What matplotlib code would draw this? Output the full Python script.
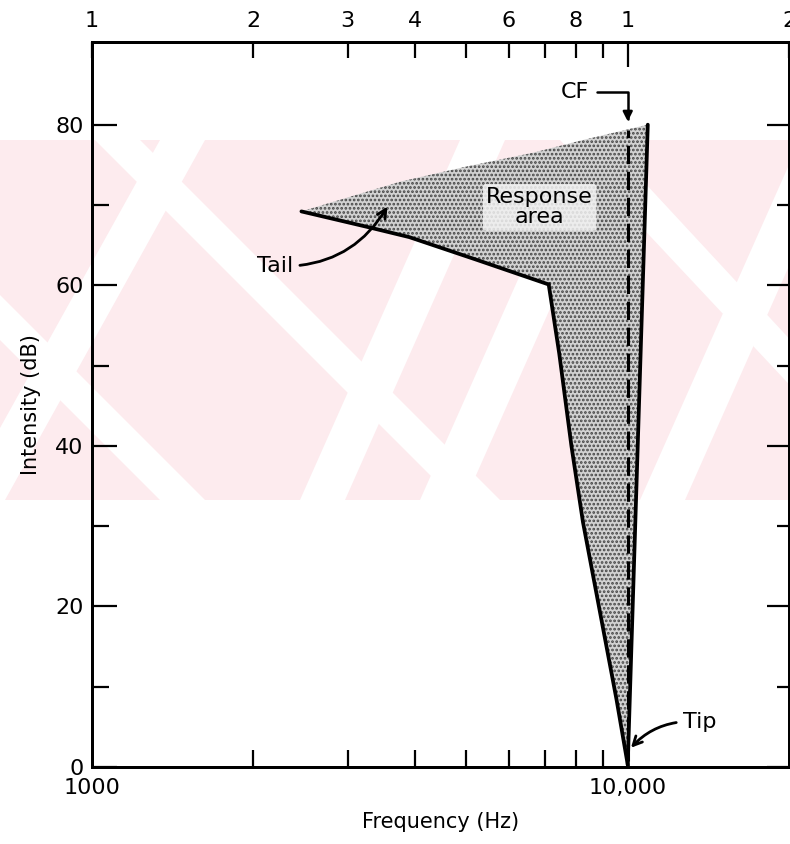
import matplotlib
matplotlib.use('Agg')
import matplotlib.pyplot as plt
from matplotlib.patches import Polygon, Rectangle
from matplotlib.ticker import FixedLocator, FixedFormatter, NullFormatter

# tuning curve (frequency in Hz, intensity in dB)
tail_freq = [2460, 3250, 3910, 5210, 7120]
tail_db = [69.2, 67.3, 66.0, 63.2, 60.1]
low_freq = [7120, 7450, 7850, 8250, 9530, 10000]
low_db = [60.1, 51.5, 40.0, 30.5, 8.4, 0.3]
high_freq = [10000, 10900]
high_db = [0.3, 80.0]

# upper edge of the stippled response area
area_freq = [2460, 3760, 5010, 6650, 8260, 9980, 10900]
area_db = [69.2, 72.9, 74.8, 76.5, 78.1, 79.4, 80.0]

# characteristic frequency
cf_freq = 10000
cf_db = [0.8, 79.3]

bottom_ticks = [1000, 10000]
bottom_labels = ['1000', '10,000']
bottom_minor = [2000, 3000, 4000, 5000, 6000, 7000, 8000, 9000]
top_ticks = [1000, 2000, 3000, 4000, 6000, 8000, 10000, 20000]
top_labels = ['1', '2', '3', '4', '6', '8', '1', '2']
top_minor = [5000, 7000, 9000]

plt.rcParams['font.family'] = ['DejaVu Sans']
plt.rcParams['hatch.linewidth'] = 1.3

W, H = 790, 844
fig = plt.figure(figsize=(W / 100, H / 100), dpi=100)


def px(x, y):
    # pixel position (from top-left) -> figure fraction
    return (x / W, 1 - y / H)


# pale watermark band behind the chart
fig.patches.append(Rectangle(px(0, 500), 1, 360 / H, transform=fig.transFigure,
                             facecolor='#fdebee', edgecolor='none', zorder=-3))
stripes = [
    [(95, 140), (140, 140), (500, 500), (455, 500)],
    [(-60, 280), (-60, 235), (205, 500), (160, 500)],
    [(300, 500), (345, 500), (505, 140), (460, 140)],
    [(420, 500), (465, 500), (625, 140), (580, 140)],
    [(640, 500), (685, 500), (845, 140), (800, 140)],
    [(560, 140), (605, 140), (860, 415), (860, 460)],
    [(-40, 500), (5, 500), (205, 140), (160, 140)],
]
for s in stripes:
    fig.patches.append(Polygon([px(*p) for p in s], closed=True, transform=fig.transFigure,
                               facecolor='white', edgecolor='none', zorder=-2))

ax = fig.add_axes([92 / W, 77 / H, 697 / W, 725 / H])
ax.patch.set_visible(False)
ax.set_xscale('log')
ax.set_xlim(1000, 20000)
ax.set_ylim(0, 90.3)

# stippled response area
poly_x = area_freq + high_freq[::-1] + low_freq[::-1][1:] + tail_freq[::-1][1:]
poly_y = area_db + high_db[::-1] + low_db[::-1][1:] + tail_db[::-1][1:]
ax.fill(poly_x, poly_y, facecolor='#d2d2d2', edgecolor='#454545', hatch='....',
        linewidth=0, zorder=1)

# tuning curve
ax.plot(tail_freq, tail_db, color='black', lw=2.7, solid_joinstyle='round',
        solid_capstyle='round', zorder=3)
ax.plot(low_freq, low_db, color='black', lw=2.7, solid_joinstyle='round', zorder=3)
ax.plot(high_freq, high_db, color='black', lw=2.7, solid_capstyle='round', zorder=3)
ax.plot([cf_freq, cf_freq], cf_db, color='black', lw=2.2,
        linestyle=(0, (6, 2.5)), zorder=3)

# annotations
ax.annotate('CF', xy=(cf_freq, 80.4), xytext=(7500, 84.1), fontsize=16,
            ha='left', va='center',
            arrowprops=dict(arrowstyle='-|>', lw=1.8, color='black', mutation_scale=14,
                            connectionstyle='angle,angleA=0,angleB=90,rad=0',
                            shrinkA=4, shrinkB=0))
ax.text(6850, 69.7, 'Response\narea', fontsize=16, ha='center', va='center',
        linespacing=1.0, zorder=4,
        bbox=dict(boxstyle='round,pad=0.15', facecolor='#f2f2f2', edgecolor='none',
                  alpha=0.85))
ax.annotate('Tail', xy=(3560, 69.8), xytext=(2030, 62.4), fontsize=16,
            ha='left', va='center',
            arrowprops=dict(arrowstyle='->', lw=2, color='black', mutation_scale=16,
                            connectionstyle='arc3,rad=0.3', shrinkA=3, shrinkB=0))
ax.annotate('Tip', xy=(10140, 2.4), xytext=(12690, 5.6), fontsize=16,
            ha='left', va='center',
            arrowprops=dict(arrowstyle='->', lw=2, color='black', mutation_scale=16,
                            connectionstyle='arc3,rad=0.25', shrinkA=3, shrinkB=0))

# frame
for sp in ax.spines.values():
    sp.set_linewidth(2)

# bottom axis
ax.xaxis.set_major_locator(FixedLocator(bottom_ticks))
ax.xaxis.set_major_formatter(FixedFormatter(bottom_labels))
ax.xaxis.set_minor_locator(FixedLocator(bottom_minor))
ax.xaxis.set_minor_formatter(NullFormatter())
ax.tick_params(axis='x', which='major', direction='in', length=0, pad=8, labelsize=16)
ax.tick_params(axis='x', which='minor', direction='in', length=12, width=1.6)
ax.set_xlabel('Frequency (Hz)', fontsize=15, labelpad=10)

# left axis
ax.set_yticks([0, 20, 40, 60, 80])
ax.set_yticks([10, 30, 50, 70], minor=True)
ax.tick_params(axis='y', which='major', direction='in', length=18, width=1.6,
               pad=6, labelsize=16)
ax.tick_params(axis='y', which='minor', direction='in', length=12, width=1.6)
ax.set_ylabel('Intensity (dB)', fontsize=15, labelpad=10)

# top axis
axt = ax.twiny()
axt.set_xscale('log')
axt.set_xlim(ax.get_xlim())
axt.xaxis.set_major_locator(FixedLocator(top_ticks))
axt.xaxis.set_major_formatter(FixedFormatter(top_labels))
axt.xaxis.set_minor_locator(FixedLocator(top_minor))
axt.xaxis.set_minor_formatter(NullFormatter())
axt.tick_params(axis='x', which='both', direction='in', length=11.5, width=1.6,
                pad=8, labelsize=16)
axt.xaxis.get_major_ticks()[6].tick2line.set_markersize(18)
for sp in axt.spines.values():
    sp.set_linewidth(2)

# right axis
axr = ax.twinx()
axr.set_ylim(ax.get_ylim())
axr.set_yticks([0, 20, 40, 60, 80])
axr.set_yticks([10, 30, 50, 70], minor=True)
axr.tick_params(axis='y', which='major', direction='in', length=16, width=1.6,
                labelright=False)
axr.tick_params(axis='y', which='minor', direction='in', length=9, width=1.6)
for sp in axr.spines.values():
    sp.set_linewidth(2)

fig.savefig('out.png', dpi=100)
